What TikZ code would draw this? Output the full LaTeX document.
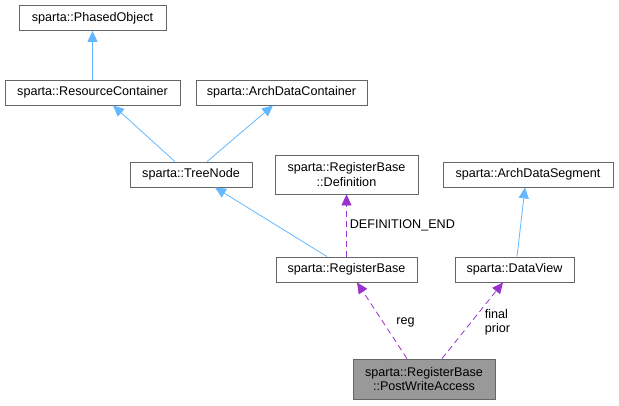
\documentclass[tikz,border=0pt]{standalone}
\usepackage{fontspec}
\setmainfont{Liberation Sans}
\usetikzlibrary{positioning, arrows.meta}
\definecolor{edgeblue}{RGB}{99, 184, 255}
\definecolor{usepurple}{RGB}{154, 50, 205}
\definecolor{boxgray}{RGB}{102, 102, 102}
\definecolor{selfill}{RGB}{153, 153, 153}

\begin{document}
\begin{tikzpicture}[x=1pt, y=-1pt,
        classbox/.style={draw=boxgray, fill=white, line width=0.8pt,
            minimum height=25pt, inner xsep=11pt, inner ysep=2pt,
            align=center, font=\fontsize{12.6}{14.5}\selectfont},
        inherit/.style={draw=edgeblue, line width=0.8pt,
            -{Triangle[length=11pt, width=10pt]}},
        uses/.style={draw=usepurple, line width=0.8pt, dash pattern=on 6pt off 4pt,
            -{Triangle[length=11pt, width=10pt]}},
        edgelabel/.style={font=\fontsize{12.6}{14.5}\selectfont, align=left, inner sep=1pt}
    ]
    \useasboundingbox (0,0) rectangle (619,405);

    \node[classbox, minimum width=147pt] (phased) at (92.5, 18) {sparta::PhasedObject};
    \node[classbox, minimum width=175pt] (rescont) at (92.5, 92.5) {sparta::ResourceContainer};
    \node[classbox, minimum width=155pt] (adcont) at (281.5, 92.5) {sparta::ArchDataContainer};
    \node[classbox, minimum width=122pt] (treenode) at (191, 174.5) {sparta::TreeNode};
    \node[classbox, minimum width=143pt, minimum height=39pt] (regdef) at (346.5, 174.5)
        {sparta::RegisterBase\\::Definition};
    \node[classbox, minimum width=170pt] (adseg) at (528, 174.5) {sparta::ArchDataSegment};
    \node[classbox, minimum width=141pt] (regbase) at (346.5, 269.5) {sparta::RegisterBase};
    \node[classbox, minimum width=119pt] (dataview) at (514.5, 269.5) {sparta::DataView};
    \node[classbox, fill=selfill, minimum width=142pt, minimum height=40pt] (pwa) at (424, 379)
        {sparta::RegisterBase\\::PostWriteAccess};

    % inheritance
    \draw[inherit] (rescont.north) -- (phased.south);
    \draw[inherit] ([xshift=-16pt]treenode.north) -- ([xshift=20.5pt]rescont.south);
    \draw[inherit] ([xshift=16pt]treenode.north) -- ([xshift=-8.5pt]adcont.south);
    \draw[inherit] ([xshift=-19.5pt]regbase.north) -- ([xshift=24pt]treenode.south);
    \draw[inherit] ([xshift=2.5pt]dataview.north) -- ([xshift=-3pt]adseg.south);

    % usage
    \draw[uses] (regbase.north) -- node[edgelabel, right=2pt] {DEFINITION\_END} (regdef.south);
    \draw[uses] ([xshift=-17pt]pwa.north) -- node[edgelabel, right=13pt, yshift=-2pt] {reg} ([xshift=10.5pt]regbase.south);
    \draw[uses] ([xshift=18pt]pwa.north) -- node[edgelabel, right=11pt, yshift=-1.5pt] {final\\prior} ([xshift=-11.5pt]dataview.south);
\end{tikzpicture}
\end{document}
